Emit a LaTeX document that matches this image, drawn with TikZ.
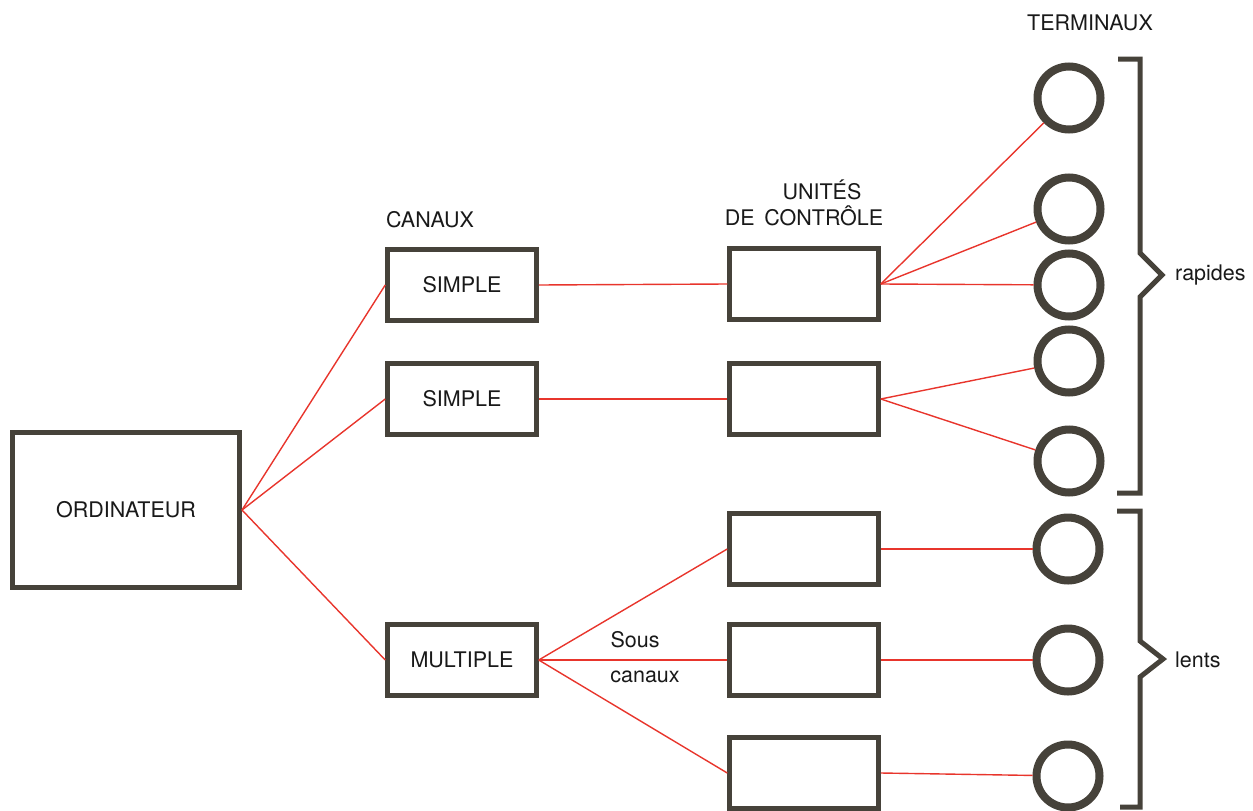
\documentclass[tikz,border=0pt]{standalone}
\usepackage{fontspec}
\setmainfont{TeX Gyre Heros}
\begin{document}
\begin{tikzpicture}[x=1pt,y=-1pt,
  every node/.style={font=\fontsize{21.5}{25}\selectfont, text=black!90},
  bigbox/.style={draw=boxgray, line width=5pt, minimum width=227pt, minimum height=155pt, fill=white},
  unitbox/.style={draw=boxgray, line width=4.5pt, minimum width=149pt, minimum height=71pt, fill=white},
  term/.style={circle, draw=boxgray, line width=8pt, minimum size=63pt, inner sep=0pt},
  link/.style={draw=linkred, line width=1.4pt},
  brace/.style={draw=boxgray, line width=5pt},
  label/.style={inner sep=0pt}]
\definecolor{boxgray}{HTML}{46423A}
\definecolor{linkred}{HTML}{E8352C}
\useasboundingbox (0,0) rectangle (1253,811);

% computer
\node[bigbox] (ord) at (126,510) {ORDINATEUR};

% channels
\node[unitbox] (s1) at (462,285) {SIMPLE};
\node[unitbox] (s2) at (462,399) {SIMPLE};
\node[unitbox] (m)  at (462,660) {MULTIPLE};

% control units
\node[unitbox] (u1) at (804,284) {};
\node[unitbox] (u2) at (804,399) {};
\node[unitbox] (u3) at (804,549) {};
\node[unitbox] (u4) at (804,660) {};
\node[unitbox] (u5) at (804,773) {};

% terminals
\node[term] (t1) at (1069,98) {};
\node[term] (t2) at (1069,209) {};
\node[term] (t3) at (1069,285) {};
\node[term] (t4) at (1069,361) {};
\node[term] (t5) at (1069,461) {};
\node[term] (t6) at (1068,549) {};
\node[term] (t7) at (1068,660) {};
\node[term] (t8) at (1068,776) {};

% headings
\node[label] (hcan) at (430,220) {CANAUX};
\node[label] (hun)  at (822,190) {UNITÉS};
\node[label] (hdc)  at (804,216) {DE\hspace{0.45em}CONTRÔLE};
\node[label] (hter) at (1090,23) {TERMINAUX};
\node[label] (sous) at (635,640) {Sous};
\node[label] (can)  at (645,677) {canaux};
\node[label, anchor=west] (rap) at (1175,275) {rapides};
\node[label, anchor=west] (len) at (1175,660) {lents};

% connections
\draw[link] (ord.east) -- (s1.west);
\draw[link] (ord.east) -- (s2.west);
\draw[link] (ord.east) -- (m.west);
\draw[link] (s1.east) -- (u1.west);
\draw[link] (s2.east) -- (u2.west);
\draw[link] (m.east) -- (u3.west);
\draw[link] (m.east) -- (u4.west);
\draw[link] (m.east) -- (u5.west);
\draw[link] (u1.east) -- (t1);
\draw[link] (u1.east) -- (t2);
\draw[link] (u1.east) -- (t3);
\draw[link] (u2.east) -- (t4);
\draw[link] (u2.east) -- (t5);
\draw[link] (u3.east) -- (t6);
\draw[link] (u4.east) -- (t7);
\draw[link] (u5.east) -- (t8);

% braces grouping the terminals
\draw[brace] (1118,59) -- (1140,59) -- (1140,253) -- (1162,275) -- (1140,297) -- (1140,493) -- (1117,493);
\draw[brace] (1117,511) -- (1140,511) -- (1140,641) -- (1163,659) -- (1140,677) -- (1140,807) -- (1120,807);
\end{tikzpicture}
\end{document}
